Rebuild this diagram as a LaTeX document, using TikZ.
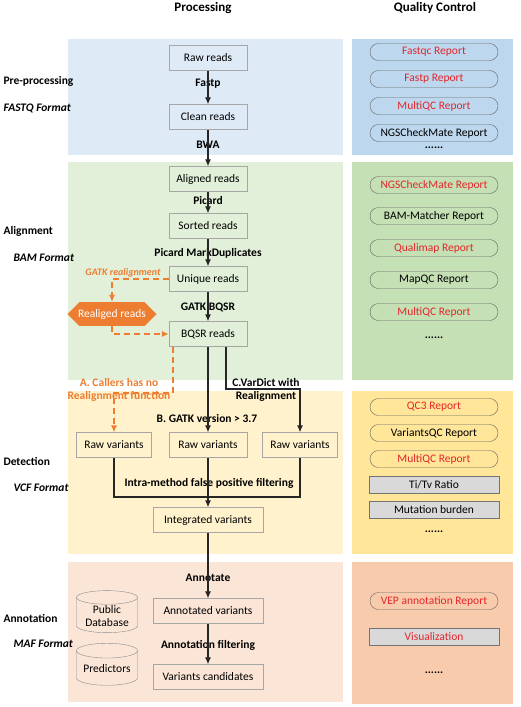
\documentclass[tikz,border=0pt]{standalone}
\usepackage{fontspec}
\setmainfont{Carlito}
\usepackage{tikz}
\usetikzlibrary{shapes.geometric, shapes.misc, arrows.meta, calc}
\tikzstyle{arrow} = [line width=1.1pt, draw=black!85, -{Latex[length=7pt,width=6pt]}]

\definecolor{bgblue}{HTML}{DEEBF7}
\definecolor{qcblue}{HTML}{BDD7EE}
\definecolor{bggreen}{HTML}{E2F0D9}
\definecolor{qcgreen}{HTML}{C5E0B4}
\definecolor{bgyellow}{HTML}{FFF2CC}
\definecolor{qcyellow}{HTML}{FFE699}
\definecolor{bgpeach}{HTML}{FBE5D6}
\definecolor{qcpeach}{HTML}{F8CBAD}
\definecolor{qcred}{HTML}{E3262B}
\definecolor{realorange}{HTML}{ED7D31}

\begin{document}
\begin{tikzpicture}[
	x=1pt, y=-1pt,
	every node/.style={font=\fontsize{11.5}{13}\selectfont},
	procbox/.style={rectangle, draw=black!35, minimum width=78pt, minimum height=25pt, inner sep=2pt},
	widebox/.style={procbox, minimum width=110pt},
	varbox/.style={procbox, minimum width=75pt},
	qcpill/.style={rounded rectangle, draw=black!60, minimum width=130pt, minimum height=17pt, inner sep=1pt},
	qcrect/.style={rectangle, draw=black!55, fill=black!15, minimum width=130pt, minimum height=17pt, inner sep=1pt},
	dbase/.style={cylinder, shape border rotate=90, aspect=0.3, draw=black!45, minimum width=61pt, align=center, inner sep=1pt},
	steplabel/.style={font=\fontsize{11.5}{13}\selectfont\bfseries, align=center},
	stagelabel/.style={anchor=west, font=\fontsize{11.5}{13}\selectfont\bfseries},
	fmtlabel/.style={anchor=west, font=\fontsize{11.5}{13}\selectfont\bfseries\itshape},
	dasharrow/.style={line width=1.1pt, draw=realorange, dash pattern=on 6pt off 4pt, -{Latex[length=7pt,width=6pt]}}
]
\useasboundingbox (0,0) rectangle (520,707);

% Stage backgrounds
\fill[bgblue] (68,39) rectangle (343,155);
\fill[qcblue] (352,39) rectangle (513,155);
\fill[bggreen] (68,162) rectangle (343,380);
\fill[qcgreen] (352,162) rectangle (513,380);
\fill[bgyellow] (68,391) rectangle (343,554);
\fill[qcyellow] (352,391) rectangle (513,554);
\fill[bgpeach] (68,562) rectangle (343,702);
\fill[qcpeach] (352,562) rectangle (513,704);

% Column titles
\node[font=\fontsize{13}{15}\selectfont\bfseries] (proctitle) at (203,8) {Processing};
\node[font=\fontsize{13}{15}\selectfont\bfseries] (qctitle) at (435,8) {Quality Control};

% Stage names
\node[stagelabel] (preproc) at (0,81) {Pre-processing};
\node[fmtlabel] (fastq) at (0,108) {FASTQ Format};
\node[stagelabel] (alignst) at (0,231) {Alignment};
\node[fmtlabel] (bam) at (10,258) {BAM Format};
\node[stagelabel] (detect) at (0,461) {Detection};
\node[fmtlabel] (vcf) at (10,488) {VCF Format};
\node[stagelabel] (annot) at (0,618) {Annotation};
\node[fmtlabel] (maf) at (10,644) {MAF Format};

% Processing chain
\node[procbox] (raw) at (208,58) {Raw reads};
\node[procbox] (clean) at (208,117) {Clean reads};
\node[procbox] (aligned) at (208,179) {Aligned reads};
\node[procbox] (sorted) at (208,226) {Sorted reads};
\node[procbox] (unique) at (208,279) {Unique reads};
\node[procbox] (bqsr) at (208,334) {BQSR reads};
\node[rectangle, fill=realorange, text=white, minimum width=89pt, minimum height=19pt, inner sep=1pt,
	chamfered rectangle, chamfered rectangle xsep=6pt, chamfered rectangle ysep=6pt] (realn) at (112,314) {Realiged reads};

\node[varbox] (rv1) at (114,445) {Raw variants};
\node[procbox] (rv2) at (208,445) {Raw variants};
\node[varbox] (rv3) at (300,445) {Raw variants};
\node[widebox] (integ) at (208,520) {Integrated variants};
\node[widebox] (annvar) at (208,611) {Annotated variants};
\node[widebox] (cand) at (208,677) {Variants candidates};

\node[dbase, minimum height=38pt] (pubdb) at (107,616) {Public\\Database};
\node[dbase, minimum height=42pt] (pred) at (107,669) {Predictors};

% Tool labels
\node[steplabel] (fastp) at (208,84) {Fastp};
\node[steplabel] (bwa) at (208,145) {BWA};
\node[steplabel] (picard) at (208,201) {Picard};
\node[steplabel] (markdup) at (208,253) {Picard MarkDuplicates};
\node[steplabel] (gatkbqsr) at (208,307) {GATK BQSR};
\node[font=\fontsize{10}{12}\selectfont\bfseries\itshape, text=realorange] (gatkreal) at (123,273) {GATK realignment};
\node[steplabel, text=realorange] (calla) at (119,390) {A. Callers has no\\Realignment function};
\node[steplabel] (callb) at (207,419) {B. GATK version > 3.7};
\node[steplabel] (callc) at (266,390) {C.VarDict with\\Realignment};
\node[steplabel] (intra) at (209,483) {Intra-method false positive filtering};
\node[steplabel] (annotate) at (208,578) {Annotate};
\node[steplabel] (annfilt) at (208,645) {Annotation filtering};

% Connectors
\coordinate (akink) at (173,393);
\coordinate (ckink) at (226,389);
\coordinate (merge) at (208,497);

\draw[arrow] (raw) -- (clean);
\draw[arrow] (clean) -- (aligned);
\draw[arrow] (aligned) -- (sorted);
\draw[arrow] (sorted) -- (unique);
\draw[arrow] (unique) -- (bqsr);
\draw[dasharrow] (unique.west) -| (realn.north);
\draw[dasharrow] (realn.south) |- (bqsr.west);
\draw[dasharrow] (bqsr.south -| akink) -- (akink) -| (rv1.north);
\draw[arrow] (bqsr) -- (rv2);
\draw[arrow] (bqsr.south -| ckink) -- (ckink) -| (rv3.north);
\draw[line width=1.1pt, draw=black!85] (rv1.south) |- (merge) -| (rv3.south);
\draw[arrow] (rv2) -- (integ);
\draw[arrow] (integ) -- (annvar);
\draw[arrow] (annvar) -- (cand);

% Quality control reports
\node[qcpill, text=qcred] (fastqc) at (434,52) {Fastqc Report};
\node[qcpill, text=qcred] (fastprep) at (434,79) {Fastp Report};
\node[qcpill, text=qcred] (multiqc1) at (434,106) {MultiQC Report};
\node[qcpill] (ngscm1) at (434,133) {NGSCheckMate Report};
\node (dots1) at (434,148) {\textbf{......}};

\node[qcpill, text=qcred] (ngscm2) at (434,185) {NGSCheckMate Report};
\node[qcpill] (bammatch) at (434,216) {BAM-Matcher Report};
\node[qcpill, text=qcred] (qualimap) at (434,248) {Qualimap Report};
\node[qcpill] (mapqc) at (434,280) {MapQC Report};
\node[qcpill, text=qcred] (multiqc2) at (434,312) {MultiQC Report};
\node (dots2) at (434,338) {\textbf{......}};

\node[qcpill, text=qcred] (qc3) at (434,407) {QC3 Report};
\node[qcpill] (variantsqc) at (434,433) {VariantsQC Report};
\node[qcpill, text=qcred] (multiqc3) at (434,459) {MultiQC Report};
\node[qcrect] (titv) at (434,485) {Ti/Tv Ratio};
\node[qcrect] (mutburden) at (434,510) {Mutation burden};
\node (dots3) at (434,532) {\textbf{......}};

\node[qcpill, text=qcred] (vep) at (434,601) {VEP annotation Report};
\node[qcrect, text=qcred] (visual) at (434,637) {Visualization};
\node (dots4) at (434,673) {\textbf{......}};

\end{tikzpicture}
\end{document}
